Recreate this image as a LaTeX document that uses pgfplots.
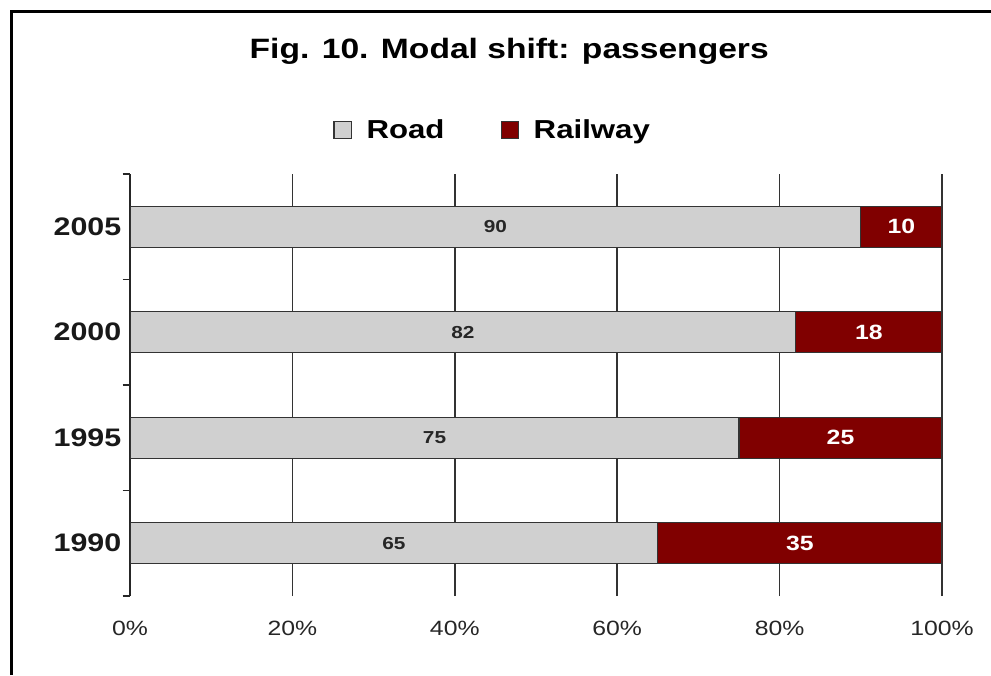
\documentclass[border=0pt]{standalone}
\usepackage{fontspec}
\setmainfont{Liberation Sans}[FakeStretch=1.2]
\usepackage{pgfplots}
\pgfplotsset{compat=1.18}
\definecolor{roadgray}{RGB}{208,208,208}
\definecolor{railred}{RGB}{128,0,0}
\begin{document}
\begin{tikzpicture}
\path[use as bounding box] (0,0) rectangle (743.25pt,506.25pt);
\begin{axis}[
  at={(97.5pt,59.25pt)}, anchor=south west,
  scale only axis, width=609pt, height=316.5pt,
  xmin=0, xmax=100, ymin=-0.5, ymax=3.5,
  xbar stacked, bar width=30.75pt,
  axis lines*=left,
  x axis line style={draw=none},
  y axis line style={draw=black!85, line width=1.3pt},
  xtick={0,20,40,60,80,100},
  xticklabels={0\%,20\%,40\%,60\%,80\%,100\%},
  xmajorgrids, grid style={draw=black!80, line width=1.2pt},
  xtick style={draw=none},
  ytick={-0.5,0.5,1.5,2.5,3.5}, yticklabels={},
  ytick style={draw=black!85, line width=1.1pt},
  extra y ticks={0,1,2,3},
  extra y tick labels={1990,1995,2000,2005},
  extra y tick style={tick style={draw=none}, ytick style={draw=none}},
  tick align=outside, major tick length=5.5pt,
  xticklabel style={font=\fontsize{15.5}{15.5}\selectfont, text=black!85, yshift=-10pt},
  yticklabel style={font=\bfseries\fontsize{19}{19}\selectfont, text=black!90, xshift=2.5pt},
  title={Fig. 10. Modal shift: passengers},
  title style={at={(0.467,1.2725)}, anchor=center, font=\bfseries\fontsize{21}{21}\selectfont},
  legend style={at={(0.447,1.104)}, anchor=center, draw=none, legend columns=2,
    font=\bfseries\fontsize{19.5}{19.5}\selectfont,
    /tikz/every odd column/.append style={column sep=9pt},
    /tikz/every even column/.append style={column sep=40pt}},
  legend image code/.code={\draw[#1, line width=0.9pt] (0pt,-6.5pt) rectangle (13pt,6.5pt);},
]
\addplot[fill=roadgray, draw=black!80, line width=0.9pt] coordinates {(65,0) (75,1) (82,2) (90,3)};
\addlegendentry{Road}
\addplot[fill=railred, draw=black!80, line width=0.9pt] coordinates {(35,0) (25,1) (18,2) (10,3)};
\addlegendentry{Railway}
\end{axis}
\begin{axis}[
  at={(97.5pt,59.25pt)}, anchor=south west,
  scale only axis, width=609pt, height=316.5pt,
  xmin=0, xmax=100, ymin=-0.5, ymax=3.5,
  hide axis,
]
\addplot[draw=none, mark=none, nodes near coords, point meta=explicit symbolic,
  every node near coord/.append style={anchor=center, text=black!85, font=\bfseries\fontsize{13}{13}\selectfont}]
  coordinates {(32.5,0) [65] (37.5,1) [75] (41,2) [82] (45,3) [90]};
\addplot[draw=none, mark=none, nodes near coords, point meta=explicit symbolic,
  every node near coord/.append style={anchor=center, text=white, font=\bfseries\fontsize{15.5}{15.5}\selectfont}]
  coordinates {(82.5,0) [35] (87.5,1) [25] (91,2) [18] (95,3) [10]};
\end{axis}
\draw[line width=2.25pt] (8.25pt,0) -- (8.25pt,497.25pt) -- (743.25pt,497.25pt);
\end{tikzpicture}
\end{document}
